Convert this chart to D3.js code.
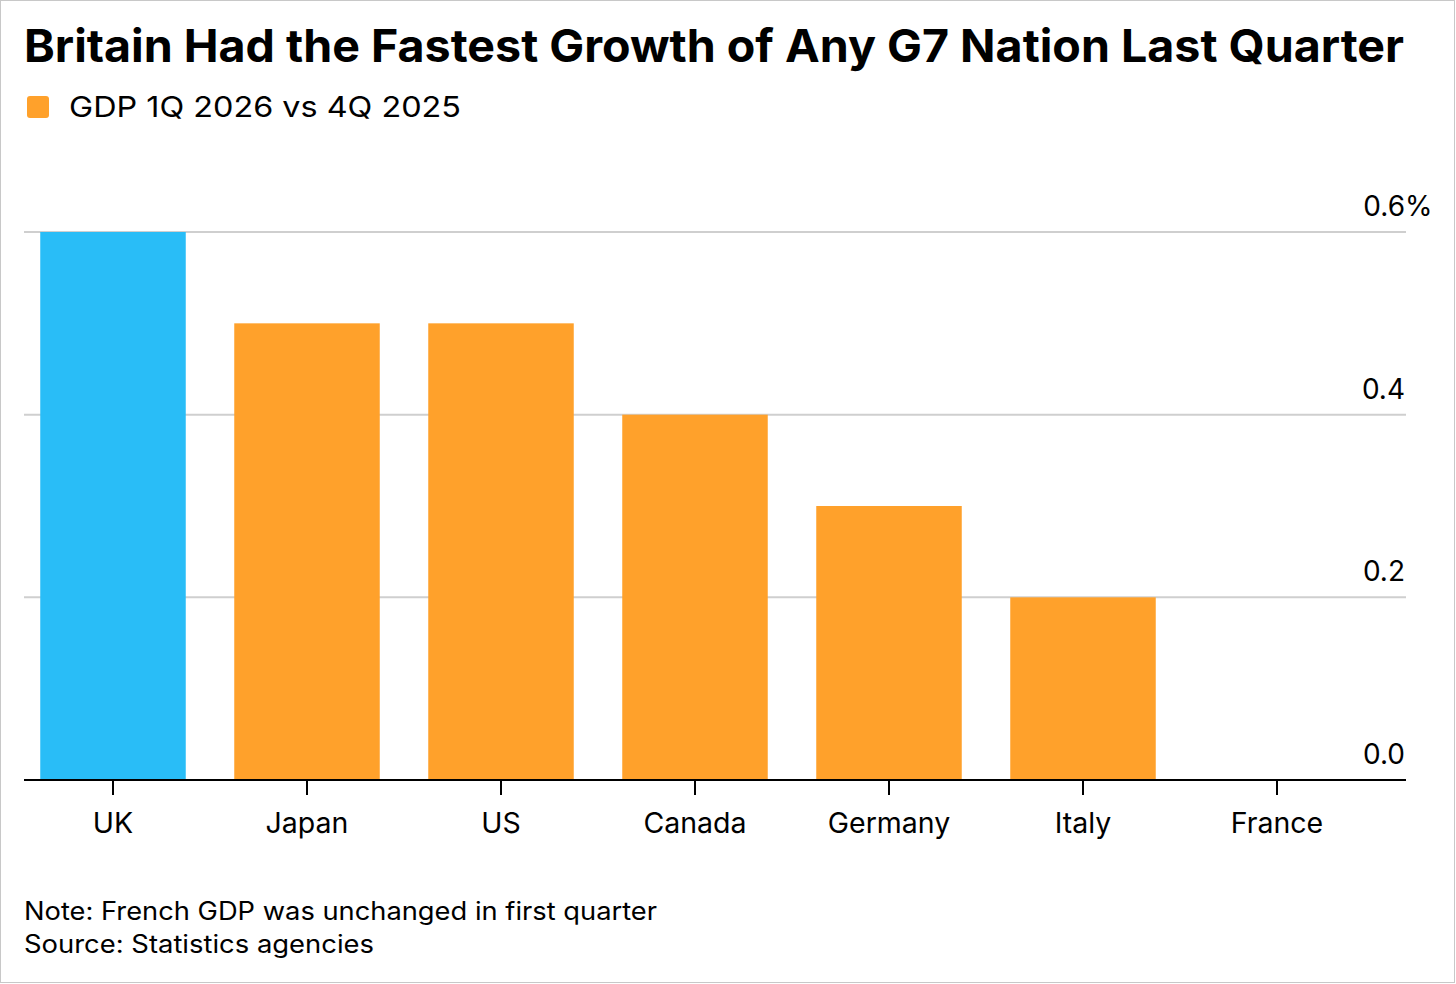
<!DOCTYPE html>
<html><head><meta charset="utf-8">
<script src="https://cdn.jsdelivr.net/npm/d3@7"></script>
<style>
html,body{margin:0;padding:0;background:#fff;}
svg{display:block;font-family:"Inter","Liberation Sans",Arial,sans-serif;}
</style></head>
<body><svg id="c" width="1456" height="984"></svg>
<script>
const categories = ["UK","Japan","US","Canada","Germany","Italy","France"];
const values = [0.6, 0.5, 0.5, 0.4, 0.3, 0.2, 0.0];
const highlight = ["UK"];
const yTicks = [0, 0.2, 0.4, 0.6];
const yTickLabels = ["0.0","0.2","0.4","0.6"];
const title = "Britain Had the Fastest Growth of Any G7 Nation Last Quarter";
const legendLabel = "GDP 1Q 2026 vs 4Q 2025";
const notes = ["Note: French GDP was unchanged in first quarter","Source: Statistics agencies"];

const svg = d3.select("#c");
const W = 1456, H = 984;
svg.append("rect").attr("x",0.5).attr("y",0.5).attr("width",W-2).attr("height",H-2)
  .attr("fill","#fff").attr("stroke","#c8c8c8").attr("stroke-width",1);

const plotL = 24, plotR = 1406;
const x = d3.scaleBand().domain(categories).range([16, 1374]).paddingInner(0.25).paddingOuter(0.125);
const y = d3.scaleLinear().domain([0, 0.6]).range([780, 232]);

function fit(sel, w){ const n = sel.node().getComputedTextLength(); if (Math.abs(n-w) > 2) sel.attr("textLength", w).attr("lengthAdjust","spacingAndGlyphs"); return sel; }

// title
const t = svg.append("text").attr("x",24).attr("y",62).attr("font-size",45).attr("font-weight",700)
  .attr("fill","#000").text(title);
fit(t, 1380);

// legend
svg.append("rect").attr("x",27).attr("y",96).attr("width",22).attr("height",22).attr("rx",3).attr("fill","#FFA12B");
fit(svg.append("text").attr("x",69).attr("y",117).attr("font-size",29).attr("fill","#000").text(legendLabel), 392);

// grid
const g = svg.append("g");
g.selectAll("line.grid").data(yTicks.filter(d=>d>0)).join("line")
  .attr("x1",plotL).attr("x2",plotR).attr("y1",d=>y(d)).attr("y2",d=>y(d))
  .attr("stroke","#cfcfcf").attr("stroke-width",2);

// bars
g.selectAll("rect.bar").data(categories).join("rect")
  .attr("x",d=>x(d)).attr("width",x.bandwidth())
  .attr("y",(d,i)=>y(values[i])).attr("height",(d,i)=>y(0)-y(values[i]))
  .attr("fill",d=>highlight.includes(d)?"#29BDF7":"#FFA12B");

// y labels
g.selectAll("text.yl").data(yTicks).join("text")
  .attr("x",1405).attr("y",d=>y(d)-16).attr("text-anchor","end").attr("font-size",28).attr("fill","#000")
  .text((d,i)=>yTickLabels[i]);
g.append("text").attr("x",1405).attr("y",y(0.6)-16).attr("font-size",28).attr("fill","#000").text("%");

// x axis
g.append("line").attr("x1",plotL).attr("x2",plotR).attr("y1",y(0)).attr("y2",y(0)).attr("stroke","#000").attr("stroke-width",2);
g.selectAll("line.tick").data(categories).join("line")
  .attr("x1",d=>x(d)+x.bandwidth()/2).attr("x2",d=>x(d)+x.bandwidth()/2)
  .attr("y1",y(0)).attr("y2",y(0)+15).attr("stroke","#000").attr("stroke-width",2);
g.selectAll("text.xl").data(categories).join("text")
  .attr("x",d=>x(d)+x.bandwidth()/2).attr("y",833).attr("text-anchor","middle").attr("font-size",28.5).attr("fill","#000")
  .text(d=>d);

// notes
const nw = [633, 350];
svg.selectAll("text.note").data(notes).join("text")
  .attr("x",24).attr("y",(d,i)=>920+i*33).attr("font-size",25).attr("fill","#000").text(d=>d)
  .each(function(d,i){ fit(d3.select(this), nw[i]); });
</script></body></html>
